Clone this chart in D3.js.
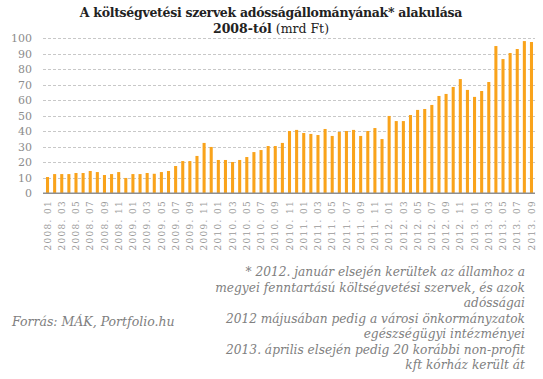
<!DOCTYPE html>
<html><head><meta charset="utf-8">
<script src="https://cdn.jsdelivr.net/npm/d3@7"></script>
<style>
body{margin:0;background:#fff;}
svg{display:block;}
</style></head>
<body>
<svg id="c" width="543" height="379"></svg>
<script>
const values = [10.5,12.4,12.4,12.4,13.1,13.1,14.4,13.7,11.8,12.4,13.7,9.9,
12.4,12.4,13.1,12.6,13.7,14.4,17.6,20.8,20.8,24.1,32.5,29.9,
21.5,21.5,20.2,21.5,23.4,26.6,27.9,30.5,30.5,32.5,40.2,40.9,
38.9,38.3,37.6,41.5,37.0,39.6,40.2,40.9,37.0,40.2,42.1,35.0,
49.9,46.6,46.6,50.5,53.8,54.4,57.0,62.8,64.1,68.6,73.7,66.7,
62.2,66.0,71.8,95.0,86.6,90.5,93.1,98.2,97.6];
const years = [2008,2009,2010,2011,2012,2013];
const categories = [];
years.forEach(y => { for (let m = 1; m <= 12; m++) { if (y === 2013 && m > 9) break; categories.push(y + ". " + String(m).padStart(2, "0")); } });
const yTicks = [0,10,20,30,40,50,60,70,80,90,100];
const titleLine1 = "A költségvetési szervek adósságállományának* alakulása";
const titleLine2a = "2008-tól";
const titleLine2b = " (mrd Ft)";
const source = "Forrás: MÁK, Portfolio.hu";
const footnote = ["* 2012. január elsején kerültek az államhoz a",
"megyei fenntartású költségvetési szervek, és azok",
"adósságai",
"2012 májusában pedig a városi önkormányzatok",
"egészségügyi intézményei",
"2013. április elsején pedig 20 korábbi non-profit",
"kft kórház került át"];

const svg = d3.select("#c");
const x = d3.scaleBand().domain(categories).range([44, 535]).paddingInner(0.57).paddingOuter(0.28);
const y = d3.scaleLinear().domain([0, 100]).range([193.3, 38.3]);

// gridlines
svg.append("g").selectAll("line").data(yTicks.filter(d => d > 0)).join("line")
  .attr("x1", 43).attr("x2", 535)
  .attr("y1", d => Math.round(y(d)) + 0.5).attr("y2", d => Math.round(y(d)) + 0.5)
  .attr("stroke", "#c8c8c8").attr("stroke-width", 1).attr("stroke-dasharray", "3,2");

// bars
svg.append("g").selectAll("rect").data(values).join("rect")
  .attr("x", (d, i) => x(categories[i]))
  .attr("width", x.bandwidth())
  .attr("y", d => y(d))
  .attr("height", d => y(0) - y(d))
  .attr("fill", "#f9a31b");

// baseline
svg.append("line").attr("x1", 43).attr("x2", 535).attr("y1", y(0)).attr("y2", y(0))
  .attr("stroke", "#8f8f8f").attr("stroke-width", 1.5);

// y axis labels
const yAxis = d3.axisLeft(y).tickValues(yTicks).tickSize(0).tickPadding(0);
const gy = svg.append("g").attr("transform", "translate(32,0)").call(yAxis);
gy.select(".domain").remove();
gy.selectAll("text").attr("fill", "#8c8c8c").style("font-family", "DejaVu Serif").style("font-size", "11px");

// x axis labels
const xAxis = d3.axisBottom(x).tickValues(categories.filter((d, i) => i % 2 === 0)).tickSize(0).tickPadding(0);
const gx = svg.append("g").attr("transform", "translate(0,200)").call(xAxis);
gx.select(".domain").remove();
gx.selectAll("text")
  .attr("transform", "rotate(-90)")
  .attr("x", 0).attr("y", 0).attr("dy", "0.35em")
  .attr("text-anchor", "end")
  .attr("fill", "#9a9a9a")
  .style("font-family", "DejaVu Serif").style("font-size", "9px").style("letter-spacing", "1.3px");

// title
svg.append("text").attr("x", 271).attr("y", 17).attr("text-anchor", "middle")
  .style("font-family", "DejaVu Serif").style("font-weight", "bold").style("font-size", "12.5px")
  .attr("fill", "#222").style("letter-spacing", "-0.3px").text(titleLine1);
const t2 = svg.append("text").attr("x", 271).attr("y", 33).attr("text-anchor", "middle")
  .style("font-family", "DejaVu Serif").style("font-size", "12.5px").attr("fill", "#222");
t2.append("tspan").style("font-weight", "bold").text(titleLine2a);
t2.append("tspan").text(titleLine2b);

// source
svg.append("text").attr("x", 12).attr("y", 326)
  .style("font-family", "DejaVu Serif").style("font-style", "italic").style("font-size", "12.5px")
  .attr("fill", "#808080").text(source);

// footnote
svg.append("g").selectAll("text").data(footnote).join("text")
  .attr("x", 525).attr("y", (d, i) => 276 + i * 15.5)
  .attr("text-anchor", "end")
  .style("font-family", "DejaVu Serif").style("font-style", "italic").style("font-size", "12.2px")
  .attr("fill", "#808080").text(d => d);
</script>
</body></html>
